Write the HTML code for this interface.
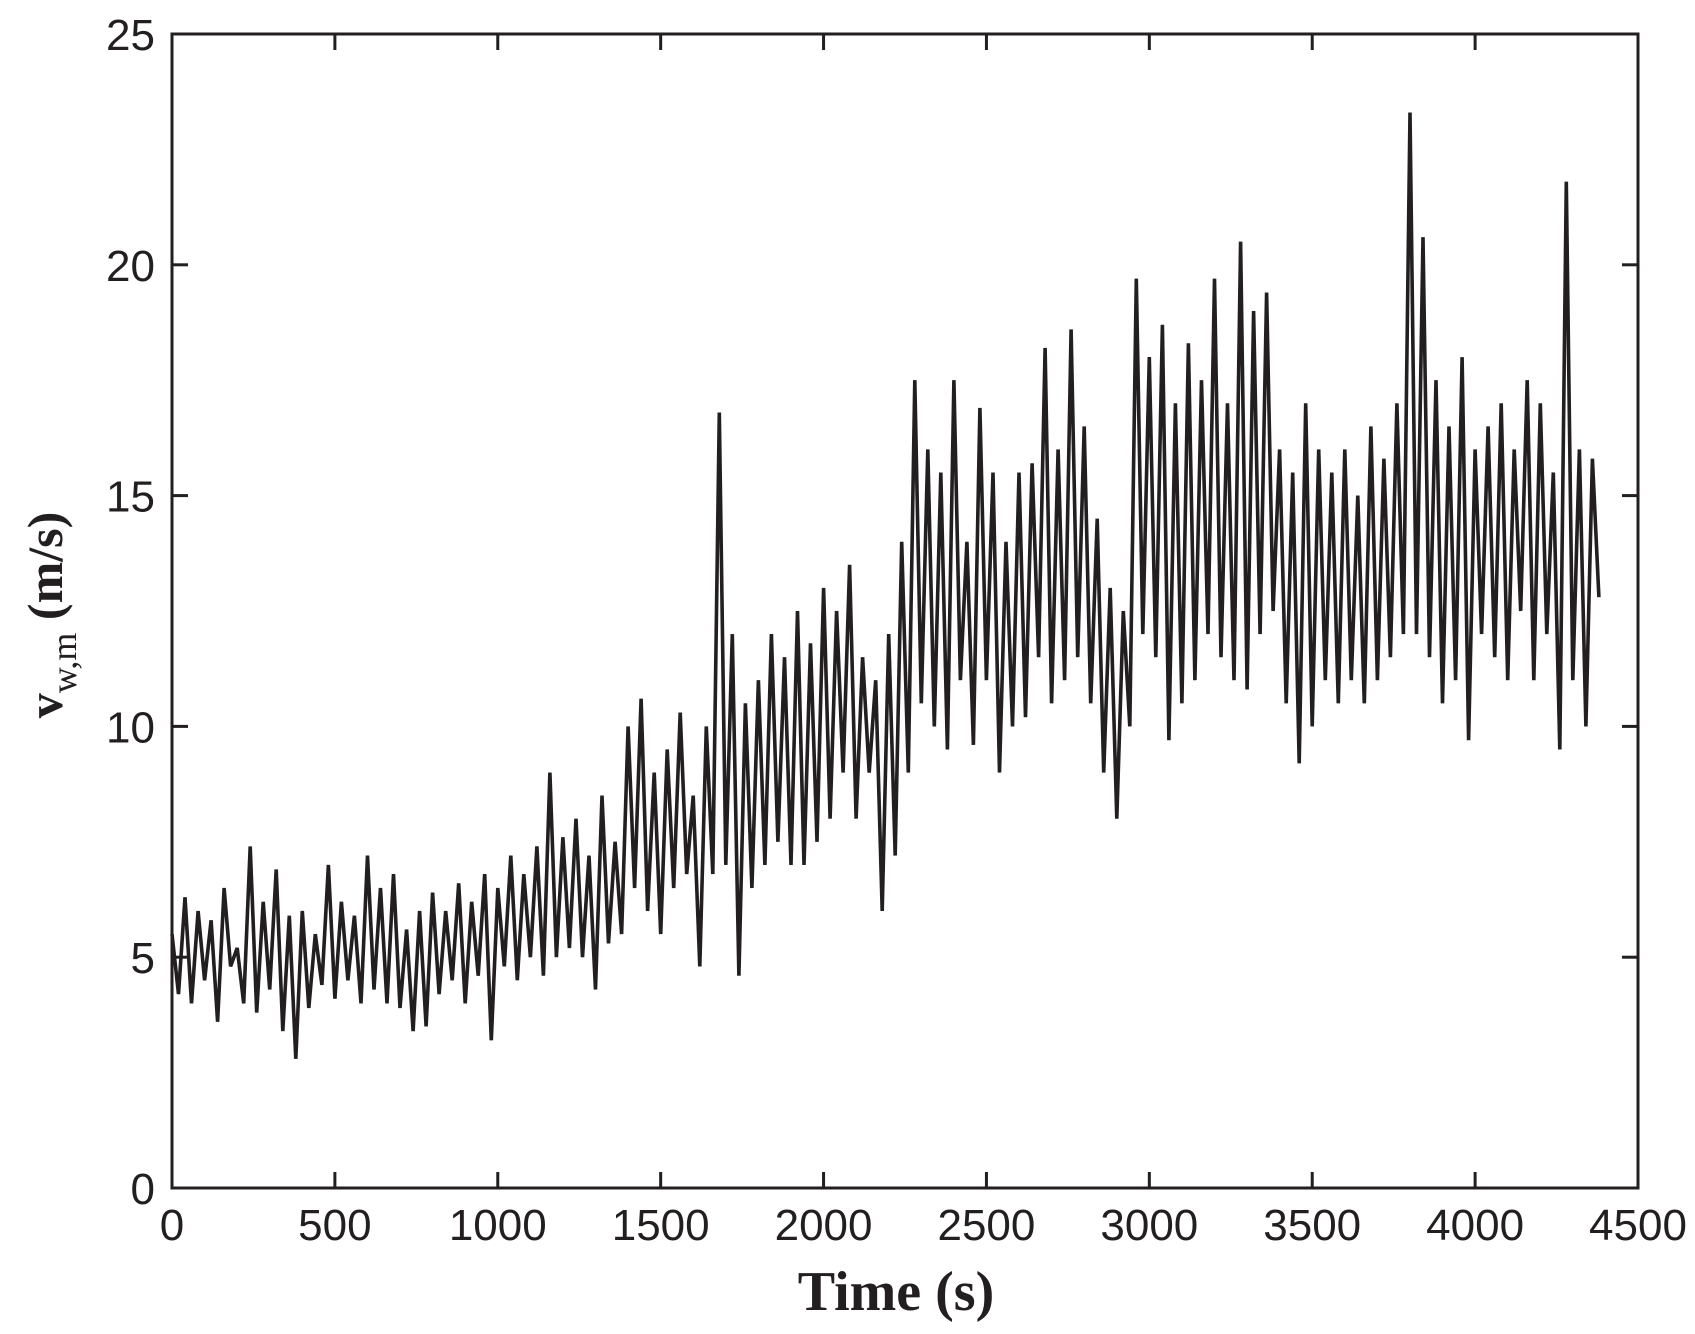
<!DOCTYPE html>
<html><head><meta charset="utf-8"><style>
html,body{margin:0;padding:0;background:#fff;}
svg{display:block;}
</style></head><body>
<svg id="chart" width="1695" height="1334" xmlns="http://www.w3.org/2000/svg">
<rect width="1695" height="1334" fill="#fff"/>
<g id="ticks"></g>
<path id="series" fill="none" stroke="#231f20" stroke-width="3.6" stroke-linejoin="miter" stroke-miterlimit="3"/>
<rect x="172" y="34" width="1466" height="1154" fill="none" stroke="#231f20" stroke-width="3"/>
<text x="896" y="1310" text-anchor="middle" font-family="Liberation Serif, serif" font-weight="bold" font-size="56" fill="#231f20">Time (s)</text>
<text transform="translate(62,615) rotate(-90)" text-anchor="middle" font-family="Liberation Serif, serif" font-weight="bold" font-size="50" fill="#231f20">v<tspan font-size="36" font-weight="normal" dy="14">w,m</tspan><tspan dy="-14"> (m/s)</tspan></text>
</svg>
<script>
const xTicks = [0,500,1000,1500,2000,2500,3000,3500,4000,4500];
const yTicks = [0,5,10,15,20,25];
const timeStep = 20;
const speeds = [
5.5,4.2,6.3,4.0,6.0,4.5,5.8,3.6,6.5,4.8,
5.2,4.0,7.4,3.8,6.2,4.3,6.9,3.4,5.9,2.8,
6.0,3.9,5.5,4.4,7.0,4.1,6.2,4.5,5.9,4.0,
7.2,4.3,6.5,4.0,6.8,3.9,5.6,3.4,6.0,3.5,
6.4,4.2,6.0,4.5,6.6,4.0,6.2,4.6,6.8,3.2,
6.5,4.8,7.2,4.5,6.8,5.0,7.4,4.6,9.0,5.0,
7.6,5.2,8.0,5.0,7.2,4.3,8.5,5.3,7.5,5.5,
10.0,6.5,10.6,6.0,9.0,5.5,9.5,6.5,10.3,6.8,
8.5,4.8,10.0,6.8,16.8,7.0,12.0,4.6,10.5,6.5,
11.0,7.0,12.0,7.5,11.5,7.0,12.5,7.0,11.8,7.5,
13.0,8.0,12.5,9.0,13.5,8.0,11.5,9.0,11.0,6.0,
12.0,7.2,14.0,9.0,17.5,10.5,16.0,10.0,15.5,9.5,
17.5,11.0,14.0,9.6,16.9,11.0,15.5,9.0,14.0,10.0,
15.5,10.2,15.7,11.5,18.2,10.5,16.0,11.0,18.6,11.5,
16.5,10.5,14.5,9.0,13.0,8.0,12.5,10.0,19.7,12.0,
18.0,11.5,18.7,9.7,17.0,10.5,18.3,11.0,17.5,12.0,
19.7,11.5,17.0,11.0,20.5,10.8,19.0,12.0,19.4,12.5,
16.0,10.5,15.5,9.2,17.0,10.0,16.0,11.0,15.5,10.5,
16.0,11.0,15.0,10.5,16.5,11.0,15.8,11.5,17.0,12.0,
23.3,12.0,20.6,11.5,17.5,10.5,16.5,11.0,18.0,9.7,
16.0,12.0,16.5,11.5,17.0,11.0,16.0,12.5,17.5,11.0,
17.0,12.0,15.5,9.5,21.8,11.0,16.0,10.0,15.8,12.8
];
const L=172,R=1638,T=34,B=1188;
const xs = v => L + (v-0)/(4500-0)*(R-L);
const ys = v => B - (v-0)/(25-0)*(B-T);
const NS="http://www.w3.org/2000/svg";
const g=document.getElementById('ticks');
function mk(tag,attrs){const e=document.createElementNS(NS,tag);for(const k in attrs)e.setAttribute(k,attrs[k]);return e;}
xTicks.forEach(t=>{
  const x=xs(t);
  const a=mk('line',{x1:x,x2:x,y1:B,y2:B-16,stroke:'#231f20','stroke-width':3});
  
  
  g.appendChild(a);
  const b=mk('line',{x1:x,x2:x,y1:T,y2:T+16,stroke:'#231f20','stroke-width':3});
  
  
  g.appendChild(b);
  const tx=mk('text',{x:x,y:1240,'text-anchor':'middle','font-family':'Liberation Sans, sans-serif','font-size':44,fill:'#231f20'});
  
  
  tx.textContent=t;g.appendChild(tx);
});
yTicks.forEach(t=>{
  const y=ys(t);
  const a=mk('line',{x1:L,x2:L+16,y1:y,y2:y,stroke:'#231f20','stroke-width':3});
  
  
  g.appendChild(a);
  const b=mk('line',{x1:R,x2:R-16,y1:y,y2:y,stroke:'#231f20','stroke-width':3});
  
  
  g.appendChild(b);
  const tx=mk('text',{x:155,y:y+16,'text-anchor':'end','font-family':'Liberation Sans, sans-serif','font-size':44,fill:'#231f20'});
  
  
  tx.textContent=t;g.appendChild(tx);
});
let d='';
speeds.forEach((v,i)=>{d+=(i?'L':'M')+xs(i*timeStep).toFixed(1)+','+ys(v).toFixed(1);});
document.getElementById('series').setAttribute('d',d);
</script>
</body></html>
